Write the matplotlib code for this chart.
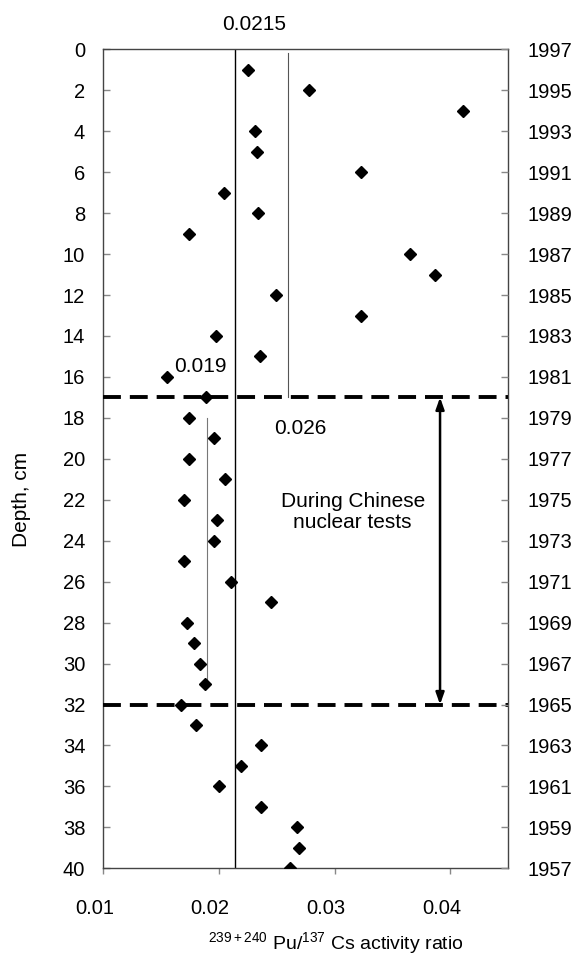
import matplotlib
matplotlib.use("Agg")
import matplotlib.pyplot as plt
from matplotlib.transforms import ScaledTranslation

# depth in the core, cm, and the measured 239+240Pu/137Cs activity ratio
depth = list(range(1, 41))
ratio = [0.0225, 0.0278, 0.0411, 0.0231, 0.0233, 0.0323, 0.0204, 0.0234,
         0.0174, 0.0365, 0.0387, 0.0249, 0.0323, 0.0197, 0.0235, 0.0155,
         0.0189, 0.0174, 0.0196, 0.0174, 0.0205, 0.0170, 0.0198, 0.0196,
         0.0170, 0.0210, 0.0245, 0.0172, 0.0178, 0.0184, 0.0188, 0.0167,
         0.0180, 0.0236, 0.0219, 0.0200, 0.0236, 0.0267, 0.0269, 0.0261]

depth_ticks = list(range(0, 41, 2))
year_labels = [str(1997 - d) for d in depth_ticks]
x_ticks = [0.01, 0.02, 0.03, 0.04]

# reference ratios: (value, top depth, bottom depth)
mean_all = (0.0214, 0, 40)
mean_upper = (0.026, 0.2, 17)
mean_lower = (0.019, 18, 31)
tests_start, tests_end = 17, 32

plt.rcParams["font.family"] = ["Liberation Sans", "DejaVu Sans"]
plt.rcParams["mathtext.fontset"] = "custom"
plt.rcParams["mathtext.rm"] = "Liberation Sans"
plt.rcParams["mathtext.it"] = "Liberation Sans:italic"

fig = plt.figure(figsize=(5.76, 9.56), dpi=100)
ax = fig.add_axes([0.1793, 0.0917, 0.7032, 0.8567])

ax.plot(ratio, depth, linestyle="none", marker="D", markersize=6,
        color="black", zorder=5)

ax.plot([mean_all[0]] * 2, mean_all[1:], color="black", lw=1.0)
ax.plot([mean_upper[0]] * 2, mean_upper[1:], color="#555555", lw=0.8)
ax.plot([mean_lower[0]] * 2, mean_lower[1:], color="#777777", lw=0.8)

for d in (tests_start, tests_end):
    ax.axhline(d, color="black", lw=2.8, linestyle=(0, (4.6, 2.3)), zorder=4)

ax.annotate("", xy=(0.0391, tests_start), xytext=(0.0391, tests_end),
            arrowprops=dict(arrowstyle="<|-|>,head_length=0.7,head_width=0.25",
                            color="black", lw=1.8, shrinkA=0, shrinkB=0),
            zorder=6)

ax.text(0.0230, -1.2, "0.0215", ha="center", va="center", fontsize=15,
        clip_on=False)
ax.text(0.0184, 15.5, "0.019", ha="center", va="center", fontsize=15)
ax.text(0.0270, 18.5, "0.026", ha="center", va="center", fontsize=15)
ax.text(0.03155, 22.6, "During Chinese\nnuclear tests", ha="center",
        va="center", fontsize=15, linespacing=1.15)

ax.set_xlim(0.01, 0.045)
ax.set_ylim(40, 0)
ax.set_xticks(x_ticks)
ax.set_xticklabels([f"{v:g}" for v in x_ticks])
ax.set_yticks(depth_ticks)

for s in ax.spines.values():
    s.set_color("#444444")
    s.set_linewidth(1.0)

ax.tick_params(axis="y", direction="in", length=5, width=1, color="#888888",
               labelsize=14.5, pad=13)
ax.tick_params(axis="x", direction="out", length=4, width=1, color="#888888",
               labelsize=14.5, pad=18)

# the x labels sit a little left of their ticks in the original
shift = ScaledTranslation(-0.09, 0, fig.dpi_scale_trans)
for lbl in ax.get_xticklabels():
    lbl.set_transform(lbl.get_transform() + shift)

ax2 = ax.twinx()
ax2.set_ylim(40, 0)
ax2.set_yticks(depth_ticks)
ax2.set_yticklabels(year_labels)
ax2.tick_params(axis="y", direction="in", length=5, width=1, color="#888888",
                labelsize=14.5, pad=14)
for s in ax2.spines.values():
    s.set_visible(False)

ax.set_ylabel("Depth, cm", fontsize=15)
ax.yaxis.set_label_coords(-0.178, 0.45)

fig.text(0.583, 0.007,
         r"$\mathregular{^{239+240}}$ Pu/$\mathregular{^{137}}$ Cs activity ratio",
         ha="center", va="baseline", fontsize=14)

fig.savefig("out.png", dpi=100)
